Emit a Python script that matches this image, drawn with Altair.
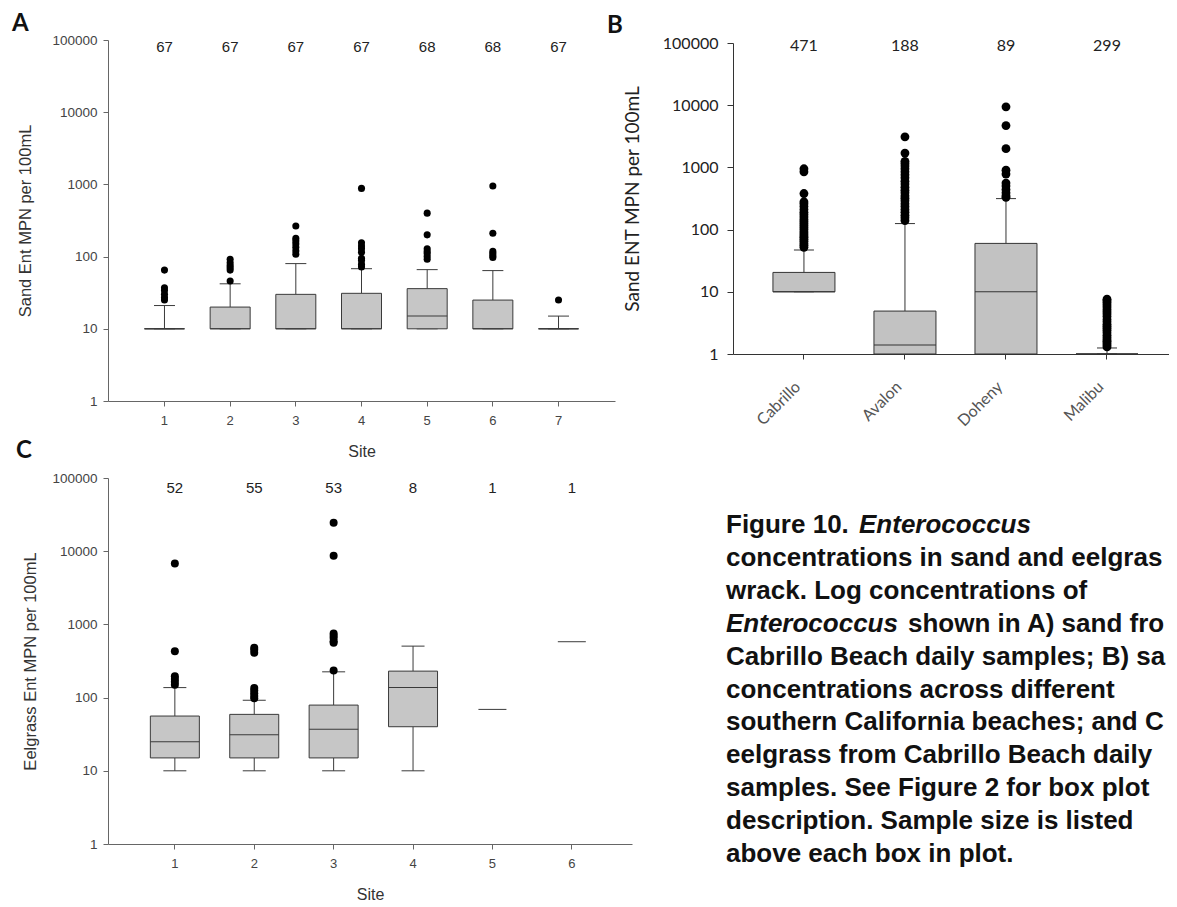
import altair as alt
import pandas as pd

# ---------------- data ----------------
Y_TICKS = [1, 10, 100, 1000, 10000, 100000]

# Panel A: sand, Cabrillo Beach sites
A_SITES = ["1", "2", "3", "4", "5", "6", "7"]
A_N = [67, 67, 67, 67, 68, 68, 67]
A_Q1 = [10, 10, 10, 10, 10, 10, 10]
A_MED = [10, 10, 10, 10, 15, 10, 10]
A_Q3 = [10, 20, 30, 31, 36, 25, 10]
A_LO = [10, 10, 10, 10, 10, 10, 10]
A_HI = [21, 42, 80, 68, 66, 64, 15]
A_OUT = [
    [65, 37, 34, 30, 27, 25],
    [46, 65, 70, 75, 82, 92],
    [265, 180, 165, 150, 135, 120, 108],
    [880, 155, 140, 128, 115, 95, 88, 78, 72],
    [400, 200, 128, 118, 110, 100, 92],
    [950, 210, 118, 110, 103, 97],
    [25],
]

# Panel B: sand, beaches
B_SITES = ["Cabrillo", "Avalon", "Doheny", "Malibu"]
B_N = [471, 188, 89, 299]
B_Q1 = [10, 1, 1, 1]
B_MED = [10, 1.4, 10, 1]
B_Q3 = [20.5, 4.9, 60, 1]
B_LO = [10, 1, 1, 1]
B_HI = [47, 125, 315, 1.25]
B_OUT = [
    [52, 56, 60, 65, 70, 75, 80, 86, 92, 100, 108, 116, 125, 135, 145, 160,
     175, 190, 210, 235, 260, 280, 380, 850, 950],
    [140, 155, 170, 190, 210, 235, 260, 290, 320, 350, 390, 430, 480, 540,
     600, 680, 760, 850, 950, 1050, 1150, 1250, 1700, 3100],
    [9400, 4700, 2000, 900, 780, 560, 500, 440, 390, 350, 330],
    [1.3, 1.4, 1.5, 1.6, 1.7, 1.85, 2, 2.2, 2.4, 2.6, 2.8, 3, 3.3, 3.6, 4,
     4.4, 4.8, 5.2, 5.7, 6.2, 6.7, 7.2, 7.6],
]

# Panel C: eelgrass wrack, Cabrillo Beach sites
C_SITES = ["1", "2", "3", "4", "5", "6"]
C_N = [52, 55, 53, 8, 1, 1]
C_Q1 = [15, 15, 15, 40, 69, 580]
C_MED = [25, 31, 37, 137, 69, 580]
C_Q3 = [56, 59, 79, 230, 69, 580]
C_LO = [10, 10, 10, 10, 69, 580]
C_HI = [137, 92, 225, 505, 69, 580]
C_OUT = [
    [6800, 430, 195, 180, 165, 150],
    [480, 450, 410, 135, 125, 115, 105, 98],
    [24500, 8700, 750, 700, 650, 590, 560, 235],
    [], [], [],
]

CAPTION = [
    "Figure 10. Enterococcus",
    "concentrations in sand and eelgrass",
    "wrack. Log concentrations of",
    "Enterococcus shown in A) sand from",
    "Cabrillo Beach daily samples; B) sand",
    "concentrations across different",
    "southern California beaches; and C)",
    "eelgrass from Cabrillo Beach daily",
    "samples. See Figure 2 for box plot",
    "description. Sample size is listed",
    "above each box in plot.",
]
ITALIC_WORD = "Enterococcus"


def make_panel(sites, n, q1, med, q3, lo, hi, outs, s):
    df = pd.DataFrame(dict(site=sites, n=n, q1=q1, med=med, q3=q3, lo=lo, hi=hi))
    dfo = pd.DataFrame(
        [{"site": st, "val": v} for st, vs in zip(sites, outs) for v in vs],
        columns=["site", "val"],
    )
    xenc = alt.X(
        "site:N", sort=sites, title=s["xtitle"],
        scale=alt.Scale(paddingInner=0, paddingOuter=s["po"], align=s["align"]),
        axis=s["xaxis"],
    )
    yscale = alt.Scale(type="log", domain=[1, 100000], nice=False, range=s["yrange"])

    def Y(f):
        return alt.Y(f, type="quantitative", scale=yscale, axis=s["yaxis"], title=s["ytitle"])

    base = alt.Chart(df).encode(x=xenc)
    boxes = base.transform_filter("datum.n > 1")
    stroke = s["stroke"]
    layers = [
        boxes.mark_rule(color=stroke, strokeWidth=1).encode(y=Y("lo"), y2=alt.Y2("q1")),
        boxes.mark_rule(color=stroke, strokeWidth=1).encode(y=Y("q3"), y2=alt.Y2("hi")),
        boxes.mark_tick(size=s["cap"], thickness=1, color=stroke, opacity=1).encode(y=Y("lo")),
        boxes.mark_tick(size=s["cap"], thickness=1, color=stroke, opacity=1).encode(y=Y("hi")),
        boxes.mark_bar(width=s["bw"], fill=s["fill"], stroke=stroke, strokeWidth=1).encode(
            y=Y("q1"), y2=alt.Y2("q3")),
        boxes.mark_tick(size=s["bw"], thickness=1, color=stroke, opacity=1).encode(y=Y("med")),
        base.transform_filter("datum.n == 1").mark_tick(
            size=s["single"], thickness=1, color=stroke, opacity=1).encode(y=Y("med")),
        alt.Chart(dfo).mark_circle(size=s["dot"], color="black", opacity=1).encode(
            x=xenc, y=Y("val")),
        base.mark_text(font=s["nfont"], fontSize=s["nsize"], color="#222",
                       baseline="middle").encode(
            y=alt.YDatum(s["ny"], type="quantitative", scale=yscale,
                         axis=s["yaxis"], title=s["ytitle"]),
            text="n:Q"),
    ]
    return alt.layer(*layers).properties(
        width=s["width"], height=s["height"],
        title=alt.TitleParams(
            text=s["letter"], anchor="start", frame="group", dx=s["ldx"],
            offset=s["loff"], font="Lato", fontSize=24, fontWeight="bold",
            color="#111"),
    )


def arial_axes(title_pad):
    yaxis = alt.Axis(
        values=Y_TICKS, format="d", grid=False, domainColor="#666", tickColor="#666",
        tickSize=5, labelFont="Liberation Sans", labelFontSize=13.5, labelColor="#444",
        labelPadding=6, titleFont="Liberation Sans", titleFontSize=16.5,
        titleFontWeight="normal", titleColor="#333", titlePadding=title_pad)
    xaxis = alt.Axis(
        labelAngle=0, grid=False, domainColor="#666", tickColor="#666", tickSize=5,
        labelFont="Liberation Sans", labelFontSize=13, labelColor="#444",
        labelPadding=8, titleFont="Liberation Sans", titleFontSize=16,
        titleFontWeight="normal", titleColor="#333", titlePadding=16)
    return xaxis, yaxis


ax_a, ay_a = arial_axes(18)
ax_c, ay_c = arial_axes(13)

style_a = dict(
    xtitle="Site", ytitle="Sand Ent MPN per 100mL", po=0.36, align=0.5,
    xaxis=ax_a, yaxis=ay_a, yrange=[361, 0], width=507, height=361,
    stroke="#3a3a3a", fill="#c6c6c6", bw=40, cap=21, single=28, dot=50,
    nfont="Liberation Sans", nsize=15, ny=80000, letter="A", ldx=-96, loff=-3)

style_b = dict(
    xtitle=None, ytitle="Sand ENT MPN per 100mL", po=0.158, align=0.64,
    xaxis=alt.Axis(
        labelAngle=315, labelAlign="right", labelBaseline="middle", grid=False,
        domainColor="#333", tickColor="#333", tickSize=5, labelFont="Lato",
        labelFontSize=16, labelColor="#555", labelPadding=25, labelOffset=-6),
    yaxis=alt.Axis(
        values=Y_TICKS, format="d", grid=False, domainColor="#333", tickColor="#333",
        tickSize=6, labelFont="Lato", labelFontSize=16, labelColor="#222",
        labelPadding=9, titleFont="Lato", titleFontSize=19, titleFontWeight="normal",
        titleColor="#222", titlePadding=20),
    yrange=[314, 3], width=436, height=314,
    stroke="#333", fill="#c2c2c2", bw=62, cap=20, single=28, dot=78,
    nfont="Lato", nsize=16, ny=89500, letter="B", ldx=-126, loff=-3)

style_c = dict(
    xtitle="Site", ytitle="Eelgrass Ent MPN per 100mL", po=0.3, align=0.57,
    xaxis=ax_c, yaxis=ay_c, yrange=[366, 0], width=524, height=366,
    stroke="#3a3a3a", fill="#c6c6c6", bw=49, cap=23, single=28, dot=64,
    nfont="Liberation Sans", nsize=15, ny=73000, letter="C", ldx=-92, loff=8)

panel_a = make_panel(A_SITES, A_N, A_Q1, A_MED, A_Q3, A_LO, A_HI, A_OUT, style_a)
panel_b = make_panel(B_SITES, B_N, B_Q1, B_MED, B_Q3, B_LO, B_HI, B_OUT, style_b)
panel_c = make_panel(C_SITES, C_N, C_Q1, C_MED, C_Q3, C_LO, C_HI, C_OUT, style_c)

# ---------------- caption ----------------
rows = []
for i, line in enumerate(CAPTION):
    if ITALIC_WORD in line:
        pre, post = line.split(ITALIC_WORD, 1)
        rows.append({"line": i, "text": ITALIC_WORD, "part": "it" + ("0" if pre else "1")})
        if pre:
            rows.append({"line": i, "text": pre.strip(), "part": "main"})
        if post:
            rows.append({"line": i, "text": post.strip(), "part": "post"})
    else:
        rows.append({"line": i, "text": line, "part": "main"})
cap_df = pd.DataFrame(rows)

cap_y = alt.Y("line:Q", scale=alt.Scale(domain=[0, 10], range=[55, 384]), axis=None)
cap_base = alt.Chart(cap_df).encode(y=cap_y, text="text:N", x=alt.value(-7))
txt = dict(align="left", baseline="alphabetic", font="Liberation Sans", fontSize=26,
           fontWeight="bold", color="#111", ellipsis="\u200b")
caption = alt.layer(
    cap_base.transform_filter("datum.part == 'main'").mark_text(limit=443, **txt),
    cap_base.transform_filter("datum.part == 'it0'").mark_text(
        limit=443, dx=133, fontStyle="italic", **txt),
    cap_base.transform_filter("datum.part == 'it1'").mark_text(
        limit=443, fontStyle="italic", **txt),
    cap_base.transform_filter("datum.part == 'post'").mark_text(limit=261, dx=182, **txt),
).properties(width=436, height=366)

chart = alt.concat(
    panel_a, panel_b, panel_c, caption,
    columns=2, spacing=alt.RowColnumber(row=77, column=101),
    bounds="flush", align="each",
).properties(
    padding={"left": 4, "top": 4, "right": 0, "bottom": 0},
).configure_view(stroke=None)

chart.save("out.html", embed_options={"renderer": "svg", "actions": False})
